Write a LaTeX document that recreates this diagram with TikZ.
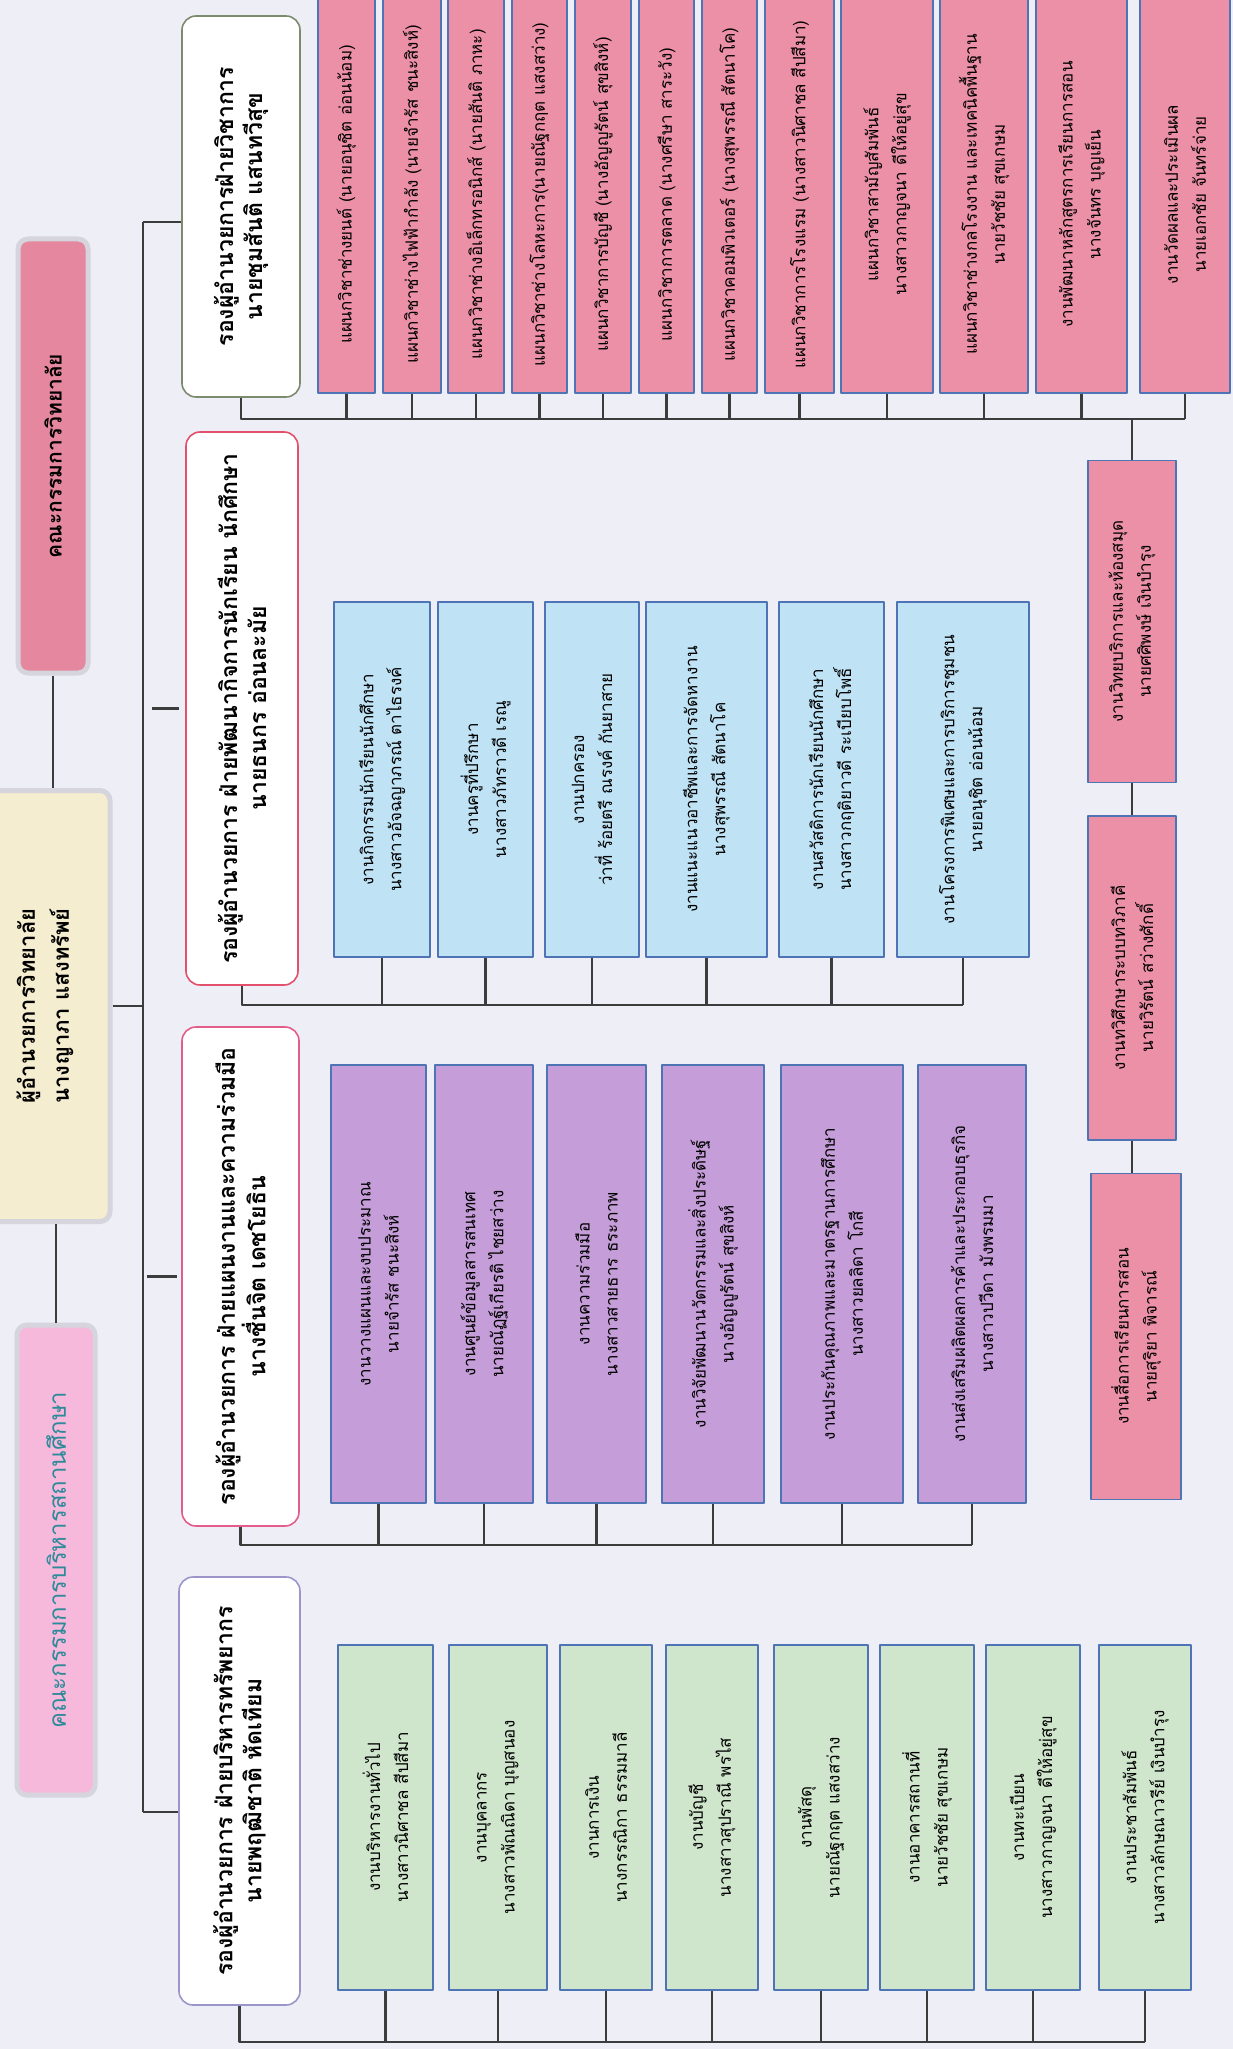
\documentclass[tikz,border=0pt]{standalone}
\usepackage{fontspec}
\setmainfont[Script=Thai]{Loma}
\definecolor{paper}{HTML}{EEEEF6}
\definecolor{linegray}{HTML}{3C3C3C}
\definecolor{glow}{HTML}{D6D4DC}
\definecolor{pinkdark}{HTML}{E4879F}
\definecolor{pinklight}{HTML}{F6B9DB}
\definecolor{cream}{HTML}{F4EDCF}
\definecolor{tealtext}{HTML}{2E8A9A}
\definecolor{leafedge}{HTML}{4E74B5}
\definecolor{leafpink}{HTML}{EC90A8}
\definecolor{leafblue}{HTML}{BFE3F5}
\definecolor{leafpurple}{HTML}{C59DD8}
\definecolor{leafgreen}{HTML}{CFE6CC}
\definecolor{edgeacad}{HTML}{7C8B6E}
\definecolor{edgestud}{HTML}{E2506B}
\definecolor{edgeplan}{HTML}{E45C8A}
\definecolor{edgeres}{HTML}{9C95C9}
\begin{document}
\begin{tikzpicture}[x=1pt, y=-1pt, line join=round,
  conn/.style={draw=linegray, line width=2.2pt},
  pgsize/.style 2 args={minimum height=#1pt, minimum width=#2pt},
  leaf/.style={draw=leafedge, line width=1.6pt, rotate=90, align=center, inner sep=1pt,
    font=\fontsize{17}{28}\selectfont},
  vice/.style={fill=white, line width=1.6pt, rounded corners=14pt, rotate=90, align=center,
    font=\bfseries\fontsize{23}{29}\selectfont},
  headbox/.style={draw=glow, line width=5pt, rounded corners=10pt, rotate=90, align=center,
    font=\bfseries\fontsize{21}{34}\selectfont}]
\useasboundingbox (0,0) rectangle (1233,2049);
\fill[paper] (0,0) rectangle (1233,2049);
\clip (0,0) rectangle (1233,2049);

% top level
\node[headbox, fill=pinkdark, pgsize={70}{434}] (board) at (53,456) {คณะกรรมการวิทยาลัย};
\node[headbox, fill=cream, pgsize={130}{431}, font=\bfseries\fontsize{22}{34}\selectfont] (director) at (45,1006)
  {ผู้อำนวยการวิทยาลัย\\นางญาภา แสงทรัพย์};
\node[headbox, fill=pinklight, text=tealtext, pgsize={78}{470}, font=\fontsize{24}{34}\selectfont] (council) at (56,1560)
  {คณะกรรมการบริหารสถานศึกษา};
\draw[conn] (board.west) -- (board.west |- director.east);
\draw[conn] (director.west -| council.east) -- (council.east);

% deputy directors
\node[vice, draw=edgeacad, pgsize={118}{381}] (v1) at (241,206.5)
  {รองผู้อำนวยการฝ่ายวิชาการ\\นายชุมสันติ แสนทวีสุข};
\node[vice, draw=edgestud, pgsize={112}{553}] (v2) at (242,708.5)
  {รองผู้อำนวยการ ฝ่ายพัฒนากิจการนักเรียน นักศึกษา\\นายธนกร อ่อนละมัย};
\node[vice, draw=edgeplan, pgsize={117}{499}] (v3) at (240.5,1276.5)
  {รองผู้อำนวยการ ฝ่ายแผนงานและความร่วมมือ\\นางชื่นจิต เดชโยธิน};
\node[vice, draw=edgeres, pgsize={121}{428}] (v4) at (239.5,1791)
  {รองผู้อำนวยการ ฝ่ายบริหารทรัพยากร\\นายพฤฒิชาติ หัดเทียม};

\coordinate (bustop) at (143,222);
\coordinate (busbot) at (143,1812);
\draw[conn] (bustop) -- (busbot);
\draw[conn] (director.south) -- (director.south -| bustop);
\draw[conn] (bustop) -- (bustop -| v1.north);
\draw[conn, shorten <=9pt, shorten >=6pt] (v2.north -| bustop) -- (v2.north);
\draw[conn, shorten <=4pt, shorten >=4pt] (v3.north -| bustop) -- (v3.north);
\draw[conn] (busbot) -- (busbot -| v4.north);

% academic departments
\foreach \idx/\xc/\w/\txt in {
  1/346.5/57/{แผนกวิชาช่างยนต์ (นายอนุชิต อ่อนน้อม)},
  2/412/58/{แผนกวิชาช่างไฟฟ้ากำลัง (นายจำรัส ชนะสิงห์)},
  3/476/56/{แผนกวิชาช่างอิเล็กทรอนิกส์ (นายสันติ ภาหะ)},
  4/539.5/55/{แผนกวิชาช่างโลหะการ(นายณัฐกฤต แสงสว่าง)},
  5/603/56/{แผนกวิชาการบัญชี (นางอัญญูรัตน์ สุขสิงห์)},
  6/666.5/55/{แผนกวิชาการตลาด (นางศรีษา สาระวัง)},
  7/729.5/55/{แผนกวิชาคอมพิวเตอร์ (นางสุพรรณี สัตนาโค)},
  8/799.5/69/{แผนกวิชาการโรงแรม (นางสาวนิศาชล สีปสีมา)},
  9/887/92/{แผนกวิชาสามัญสัมพันธ์\\นางสาวกาญจนา ดีให้อยู่สุข},
  10/984/88/{แผนกวิชาช่างกลโรงงาน และเทคนิคพื้นฐาน\\นายวัชชัย สุขเกษม},
  11/1081.5/91/{งานพัฒนาหลักสูตรการเรียนการสอน\\นางจันทร บุญเย็น},
  12/1185/90/{งานวัดผลและประเมินผล\\นายเอกชัย จันทร์จ่าย}}
  \node[leaf, fill=leafpink, pgsize={\w}{397}] (r\idx) at (\xc,194.5) {\txt};
\coordinate (rbus) at (241,419);
\draw[conn] (v1.west) |- (r12.west |- rbus);
\foreach \idx in {1,...,12}
  \draw[conn] (r\idx.west |- rbus) -- (r\idx.west);

\node[leaf, fill=leafpink, pgsize={88}{322}] (c1) at (1132,621.5) {งานวิทยบริการและห้องสมุด\\นายศศิพงษ์ เงินบำรุง};
\node[leaf, fill=leafpink, pgsize={88}{324}] (c2) at (1132,978) {งานทวิศึกษาระบบทวิภาคี\\นายวิรัตน์ สว่างศักดิ์};
\node[leaf, fill=leafpink, pgsize={90}{326}] (c3) at (1136,1336.5) {งานสื่อการเรียนการสอน\\นายสุริยา พิจารณ์};
\draw[conn] (c1.east |- rbus) -- (c1.east);
\draw[conn] (c1.west) -- (c1.west |- c2.east);
\draw[conn] (c2.west) -- (c2.west |- c3.east);

% student affairs
\foreach \idx/\xc/\w/\txt in {
  1/382/96/{งานกิจกรรมนักเรียนนักศึกษา\\นางสาวอัจฉญาภรณ์ ตาไธรงค์},
  2/485.5/95/{งานครูที่ปรึกษา\\นางสาวภัทราวดี เรณู},
  3/592/94/{งานปกครอง\\ว่าที่ ร้อยตรี ณรงค์ กันยาสาย},
  4/706.5/121/{งานแนะแนวอาชีพและการจัดหางาน\\นางสุพรรณี สัตนาโค},
  5/831.5/105/{งานสวัสดิการนักเรียนนักศึกษา\\นางสาวกฤติยาวดี ระเบียบโพธิ์},
  6/963/132/{งานโครงการพิเศษและการบริการชุมชน\\นายอนุชิต อ่อนน้อม}}
  \node[leaf, fill=leafblue, pgsize={\w}{355}] (b\idx) at (\xc,779.5) {\txt};
\coordinate (bbus) at (241,1005);
\draw[conn] (v2.west) |- (b6.west |- bbus);
\foreach \idx in {1,...,6}
  \draw[conn] (b\idx.west |- bbus) -- (b\idx.west);

% planning and cooperation
\foreach \idx/\xc/\w/\txt in {
  1/378.5/95/{งานวางแผนและงบประมาณ\\นายจำรัส ชนะสิงห์},
  2/484/98/{งานศูนย์ข้อมูลสารสนเทศ\\นายณัฏฐ์เกียรติ ไชยสว่าง},
  3/596.5/99/{งานความร่วมมือ\\นางสาวสายธาร ธระภาพ},
  4/713/102/{งานวิจัยพัฒนานวัตกรรมและสิ่งประดิษฐ์\\นางอัญญูรัตน์ สุขสิงห์},
  5/842/122/{งานประกันคุณภาพและมาตรฐานการศึกษา\\นางสาวยลลิดา โกสี},
  6/972/108/{งานส่งเสริมผลิตผลการค้าและประกอบธุรกิจ\\นางสาวปวีดา มังพรมมา}}
  \node[leaf, fill=leafpurple, pgsize={\w}{438}] (p\idx) at (\xc,1284) {\txt};
\coordinate (pbus) at (241,1545);
\draw[conn] (v3.west) |- (p6.west |- pbus);
\foreach \idx in {1,...,6}
  \draw[conn] (p\idx.west |- pbus) -- (p\idx.west);

% resources
\foreach \idx/\xc/\w/\txt in {
  1/385.5/95/{งานบริหารงานทั่วไป\\นางสาวนิศาชล สีปสีมา},
  2/498/98/{งานบุคลากร\\นางสาวพัณณิดา บุญสนอง},
  3/606/92/{งานการเงิน\\นางกรรณิกา ธรรมมาลี},
  4/712/92/{งานบัญชี\\นางสาวสุปราณี พรไส},
  5/821/94/{งานพัสดุ\\นายณัฐกฤต แสงสว่าง},
  6/927/94/{งานอาคารสถานที่\\นายวัชชัย สุขเกษม},
  7/1033/94/{งานทะเบียน\\นางสาวกาญจนา ดีให้อยู่สุข},
  8/1145/92/{งานประชาสัมพันธ์\\นางสาวลักษณาวรีย์ เงินบำรุง}}
  \node[leaf, fill=leafgreen, pgsize={\w}{345}] (g\idx) at (\xc,1817.5) {\txt};
\coordinate (gbus) at (241,2042);
\draw[conn] (v4.west) |- (g8.west |- gbus);
\foreach \idx in {1,...,8}
  \draw[conn] (g\idx.west |- gbus) -- (g\idx.west);
\end{tikzpicture}
\end{document}
